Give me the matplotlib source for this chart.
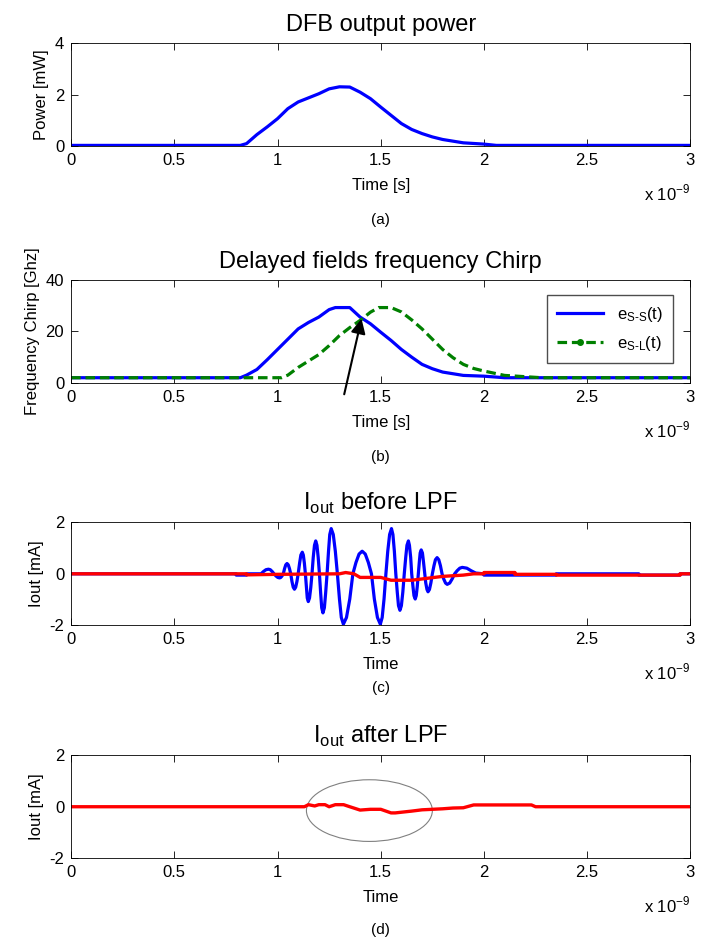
import numpy as np
import matplotlib.pyplot as plt
from matplotlib.lines import Line2D
from matplotlib.patches import Ellipse

plt.rcParams['font.family'] = ['Liberation Sans', 'DejaVu Sans']
plt.rcParams['mathtext.fontset'] = 'custom'
plt.rcParams['mathtext.rm'] = 'Liberation Sans'
plt.rcParams['axes.unicode_minus'] = False

# (a) DFB output power, time in ns
t_pow = [0, 0.82, 0.85, 0.9, 0.95, 1.0, 1.05, 1.1, 1.15, 1.2, 1.25, 1.3, 1.35, 1.4, 1.45, 1.5,
         1.55, 1.6, 1.65, 1.7, 1.75, 1.8, 1.9, 2.0, 2.06, 3.0]
power = [0.03, 0.03, 0.1, 0.45, 0.75, 1.07, 1.46, 1.72, 1.88, 2.04, 2.23, 2.31, 2.3, 2.1, 1.85, 1.52,
         1.2, 0.88, 0.65, 0.49, 0.36, 0.26, 0.13, 0.08, 0.03, 0.03]

# (b) frequency chirp [GHz]
t_ss = [0, 0.82, 0.85, 0.9, 0.95, 1.0, 1.05, 1.1, 1.15, 1.2, 1.25, 1.28, 1.35, 1.4, 1.45, 1.5,
        1.55, 1.6, 1.65, 1.7, 1.75, 1.8, 1.9, 2.0, 2.1, 3.0]
chirp_ss = [2, 2, 3, 5.2, 9, 13, 17, 21, 23.5, 25.6, 28.5, 29.3, 29.3, 25.6, 23, 19.7,
            16.5, 13, 10, 7.2, 5.5, 4.2, 2.9, 2.6, 2, 2]
t_sl = [0, 1.02, 1.05, 1.1, 1.15, 1.2, 1.25, 1.3, 1.35, 1.4, 1.45, 1.49, 1.55, 1.6, 1.65, 1.7,
        1.75, 1.8, 1.85, 1.9, 1.95, 2.0, 2.1, 2.2, 2.28, 3.0]
chirp_sl = [2, 2, 3, 6, 8.5, 11, 14.5, 18.4, 21.5, 24.3, 27.5, 29.3, 29.3, 27.6, 24.5, 21,
            17, 13, 9.8, 7.2, 5.6, 4.6, 2.9, 2.4, 2, 2]

# (c) Iout before LPF [mA]
t_osc = [0, 0.8, 0.8, 0.85, 0.85, 0.92,
         0.932, 0.944, 0.956, 0.965, 0.974, 0.983,
         0.992, 1.001, 1.01, 1.016, 1.022, 1.028,
         1.034, 1.04, 1.046, 1.052, 1.058, 1.064,
         1.07, 1.076, 1.082, 1.088, 1.094, 1.10,
         1.107, 1.113, 1.12, 1.125, 1.13, 1.135,
         1.14, 1.144, 1.149, 1.155, 1.161, 1.167,
         1.173, 1.179, 1.185, 1.191, 1.197, 1.203,
         1.209, 1.214, 1.22, 1.227, 1.233, 1.24,
         1.247, 1.253, 1.26, 1.27, 1.28, 1.29,
         1.30, 1.309, 1.319, 1.334, 1.35, 1.365,
         1.38, 1.395, 1.41, 1.425, 1.44, 1.455,
         1.469, 1.484, 1.498, 1.507, 1.516, 1.525,
         1.534, 1.543, 1.552, 1.559, 1.566, 1.573,
         1.58, 1.586, 1.593, 1.6, 1.607, 1.614,
         1.621, 1.627, 1.634, 1.639, 1.645, 1.65,
         1.656, 1.661, 1.667, 1.672, 1.677, 1.682,
         1.687, 1.691, 1.696, 1.702, 1.707, 1.713,
         1.718, 1.724, 1.729, 1.736, 1.743, 1.75,
         1.758, 1.765, 1.773, 1.781, 1.789, 1.797,
         1.805, 1.814, 1.822, 1.834, 1.846, 1.858,
         1.87, 1.883, 1.895, 1.917, 1.938, 1.96,
         2.0, 2.0, 2.15, 2.15, 2.35, 2.35, 2.75, 2.75, 2.95, 2.95, 3.0]
i_osc = [0, 0, -0.05, -0.05, 0, 0,
         0.09, 0.16, 0.18, 0.16, 0.09, 0,
         -0.08, -0.14, -0.16, -0.14, -0.08, 0,
         0.2, 0.35, 0.4, 0.35, 0.2, 0,
         -0.3, -0.52, -0.6, -0.52, -0.3, 0,
         0.42, 0.73, 0.84, 0.73, 0.42, 0,
         -0.54, -0.94, -1.08, -0.94, -0.54, 0,
         0.64, 1.11, 1.28, 1.11, 0.64, 0,
         -0.76, -1.32, -1.52, -1.32, -0.76, 0,
         0.88, 1.53, 1.76, 1.53, 0.88, 0,
         -0.98, -1.7, -1.96, -1.7, -0.98, 0,
         0.44, 0.77, 0.88, 0.77, 0.44, 0,
         -0.98, -1.7, -1.96, -1.7, -0.98, 0,
         0.88, 1.53, 1.76, 1.53, 0.88, 0,
         -0.71, -1.24, -1.42, -1.24, -0.71, 0,
         0.64, 1.11, 1.28, 1.11, 0.64, 0,
         -0.49, -0.85, -0.98, -0.85, -0.49, 0,
         0.47, 0.81, 0.93, 0.81, 0.47, 0,
         -0.35, -0.61, -0.7, -0.61, -0.35, 0,
         0.32, 0.55, 0.63, 0.55, 0.32, 0,
         -0.2, -0.36, -0.41, -0.36, -0.2, 0,
         0.12, 0.22, 0.25, 0.22, 0.12, 0.03,
         0, -0.05, -0.05, -0.05, -0.05, 0, 0, -0.05, -0.05, 0, 0]
t_red_c = [0, 0.85, 0.85, 1.0, 1.3, 1.33, 1.37, 1.4, 1.5, 1.55, 1.65, 1.7, 1.8, 1.9, 1.95, 2.0,
           2.0, 2.15, 2.15, 2.35, 2.35, 2.95, 2.95, 3.0]
i_red_c = [0, 0, -0.04, -0.02, 0.0, 0.05, 0.0, -0.14, -0.14, -0.25, -0.25, -0.2, -0.1, -0.05,
           0.0, 0.0, 0.05, 0.05, -0.02, -0.02, -0.05, -0.05, 0.0, 0.0]

# (d) Iout after LPF [mA]
t_lpf = [0, 1.13, 1.15, 1.18, 1.2, 1.23, 1.25, 1.28, 1.32, 1.35, 1.4, 1.45, 1.5, 1.55, 1.57,
         1.65, 1.7, 1.75, 1.8, 1.85, 1.9, 1.95, 2.23, 2.25, 3.0]
i_lpf = [0, 0, 0.08, 0.03, 0.08, 0.08, 0.0, 0.08, 0.08, 0.0, -0.13, -0.1, -0.1, -0.24, -0.24,
         -0.17, -0.12, -0.1, -0.08, -0.05, -0.04, 0.07, 0.07, 0.0, 0.0]

xticks = [0, 0.5, 1, 1.5, 2, 2.5, 3]

fig = plt.figure(figsize=(7.11, 9.43), dpi=100)
L, W, H = 0.100, 0.871, 0.109
bottoms = [0.845, 0.594, 0.337, 0.090]
axs = [fig.add_axes([L, b, W, H]) for b in bottoms]


def style(ax, ylim, yticks, ylabel, xlabel, title, sub, sub_y):
    ax.set_xlim(0, 3)
    ax.set_ylim(*ylim)
    ax.set_xticks(xticks)
    ax.set_xticklabels(['0', '0.5', '1', '1.5', '2', '2.5', '3'])
    ax.set_yticks(yticks)
    ax.tick_params(direction='in', top=True, right=True, labelsize=12, length=5, width=0.6, pad=5)
    for s in ax.spines.values():
        s.set_linewidth(0.6)
    ax.set_ylabel(ylabel, fontsize=12)
    ax.set_xlabel(xlabel, fontsize=12, labelpad=7)
    ax.set_title(title, fontsize=17, pad=9)
    ax.text(1.0, -0.46, r'x 10$^{\mathregular{-9}}$', transform=ax.transAxes,
            ha='right', va='center', fontsize=12)
    fig.text(0.5 * (L * 2 + W), sub_y, sub, ha='center', va='center', fontsize=11)


# (a)
ax = axs[0]
ax.plot(t_pow, power, color=(0, 0, 1), lw=2.3)
style(ax, (0, 4), [0, 2, 4], 'Power [mW]', 'Time [s]', 'DFB output power', '(a)', 1 - 220 / 943)

# (b)
ax = axs[1]
ax.plot(t_ss, chirp_ss, color=(0, 0, 1), lw=2.3)
ax.plot(t_sl, chirp_sl, color=(0, 0.5, 0), lw=2.3, ls='--', dashes=(3, 1.5))
style(ax, (0, 40), [0, 20, 40], 'Frequency Chirp [Ghz]', 'Time [s]',
      'Delayed fields frequency Chirp', '(b)', 1 - 457 / 943)
handles = [Line2D([], [], color=(0, 0, 1), lw=2.3),
           Line2D([], [], color=(0, 0.5, 0), lw=2.3, ls='--', dashes=(3, 1.5), marker='o', markersize=4)]
ax.legend(handles, [r'$\mathregular{e_{S\text{-}S}(t)}$', r'$\mathregular{e_{S\text{-}L}(t)}$'],
          loc='upper right', bbox_to_anchor=(0.985, 0.94), fontsize=12, frameon=True, fancybox=False,
          edgecolor='0.3', framealpha=1, handlelength=2.8, numpoints=1, borderpad=0.6, labelspacing=0.6)
ax.annotate('', xy=(1.41, 26), xytext=(1.32, -5.5), annotation_clip=False,
            arrowprops=dict(arrowstyle='-|>', color='black', lw=1.5, mutation_scale=22))

# (c)
ax = axs[2]
ax.plot(t_osc, i_osc, color=(0, 0, 1), lw=2.3)
ax.plot(t_red_c, i_red_c, color=(1, 0, 0), lw=2.4)
style(ax, (-2, 2), [-2, 0, 2], 'Iout [mA]', 'Time',
      r'I$_{\mathregular{out}}$ before LPF', '(c)', 1 - 688 / 943)

# (d)
ax = axs[3]
ax.plot(t_lpf, i_lpf, color=(1, 0, 0), lw=2.4)
ax.add_patch(Ellipse((1.445, -0.15), 0.61, 2.4, fill=False, edgecolor='0.5', lw=0.8))
style(ax, (-2, 2), [-2, 0, 2], 'Iout [mA]', 'Time',
      r'I$_{\mathregular{out}}$ after LPF', '(d)', 1 - 930 / 943)

fig.savefig('out.png', dpi=100)
